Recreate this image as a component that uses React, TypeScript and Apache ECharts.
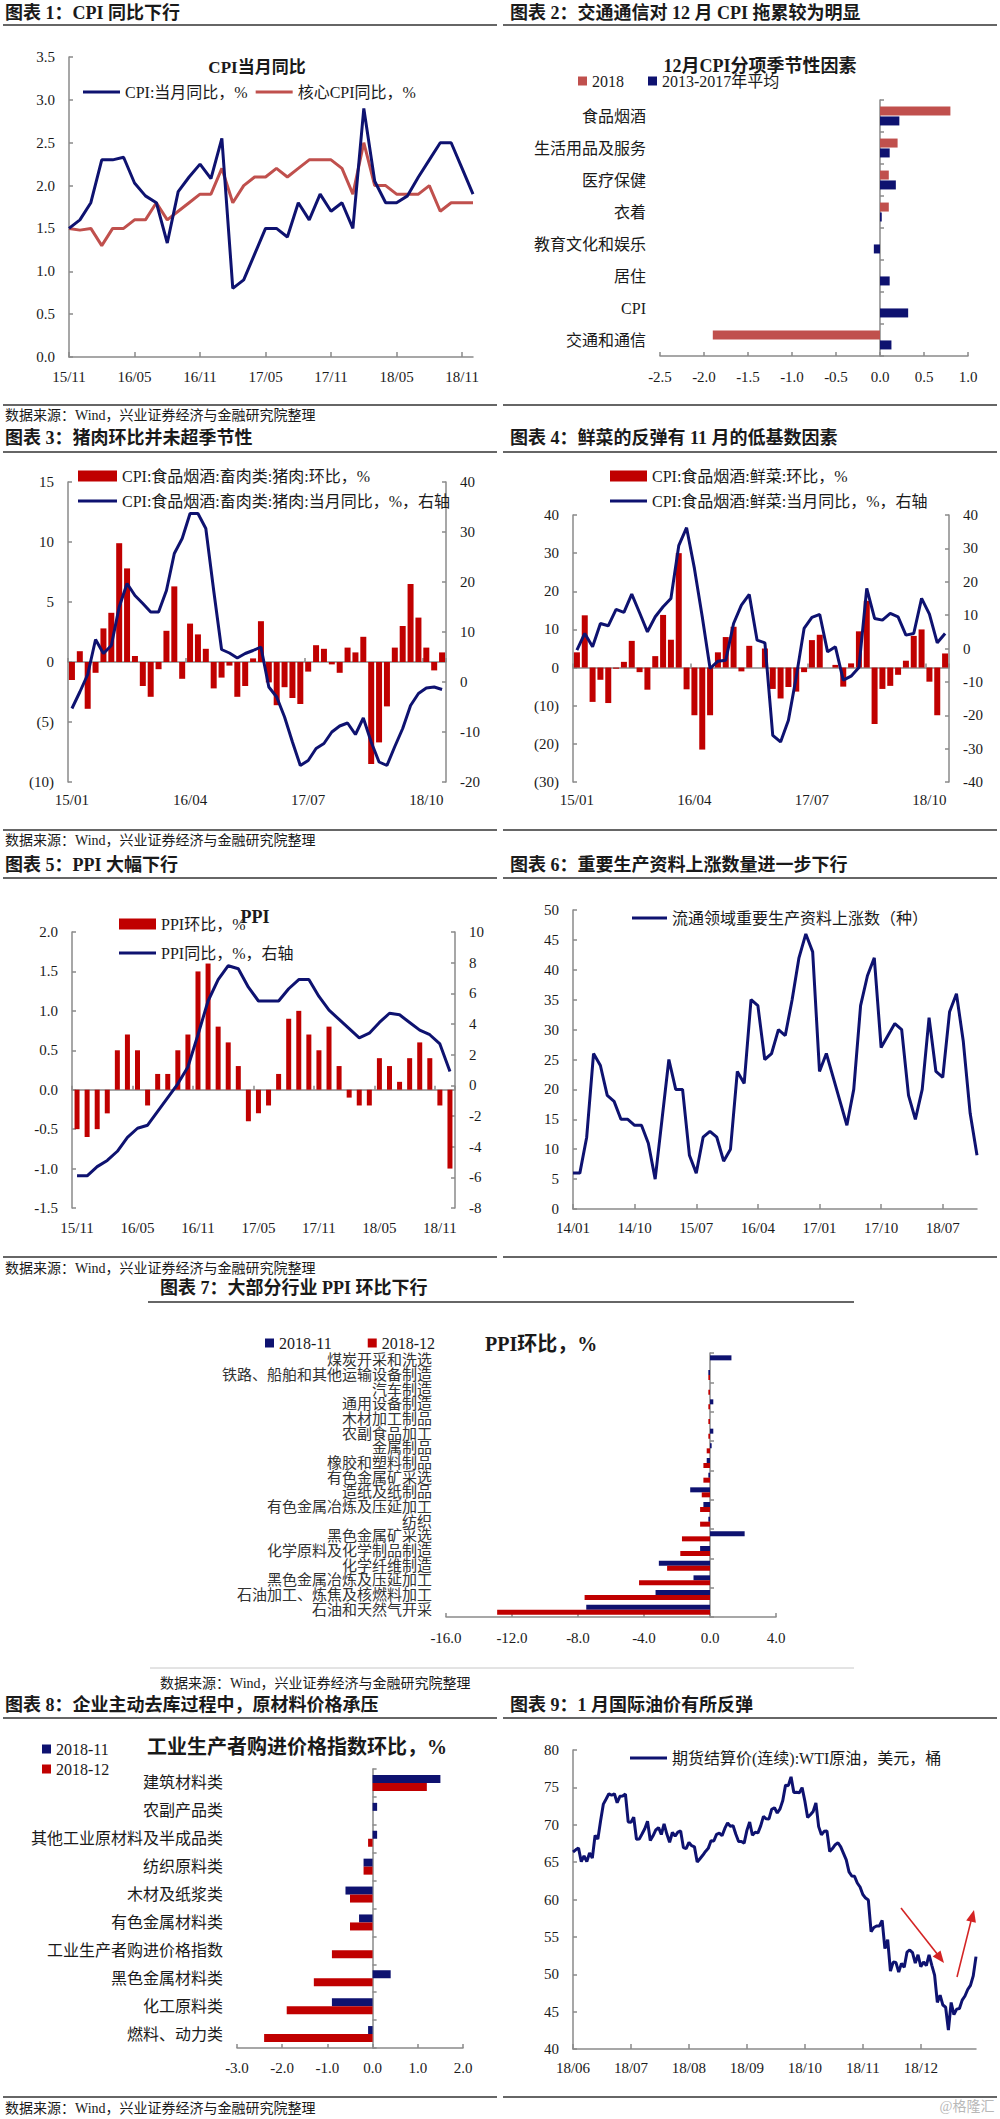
import React, { useEffect, useRef } from 'react';
import * as echarts from 'echarts';

const FONT = "'Liberation Serif', 'Noto Sans CJK SC', serif";
const NAVY = '#0e1270';
const RED = '#c00000';
const SOFT_RED = '#c0504d';
const AXIS = '#8a8a8a';
const TXT = '#1a1a1a';

function monthLabels(y: number, m: number, n: number): string[] {
  const out: string[] = [];
  for (let i = 0; i < n; i++) {
    const t = y * 12 + (m - 1) + i;
    const yy = Math.floor(t / 12) % 100;
    const mm = (t % 12) + 1;
    out.push(`${String(yy).padStart(2, '0')}/${String(mm).padStart(2, '0')}`);
  }
  return out;
}

// ---- Chart 1
const cpiMonths = monthLabels(2015, 11, 38);
const cpiYoY = [1.5, 1.6, 1.8, 2.3, 2.3, 2.33, 2.03, 1.88, 1.8, 1.33, 1.93, 2.1, 2.25, 2.08, 2.55, 0.8, 0.9, 1.2, 1.5, 1.5, 1.4, 1.8, 1.6, 1.9, 1.7, 1.8, 1.5, 2.9, 2.05, 1.8, 1.8, 1.88, 2.1, 2.3, 2.5, 2.5, 2.2, 1.9];
const coreCpi = [1.5, 1.48, 1.5, 1.3, 1.5, 1.5, 1.6, 1.6, 1.8, 1.6, 1.7, 1.8, 1.9, 1.9, 2.2, 1.8, 2.0, 2.1, 2.1, 2.2, 2.1, 2.2, 2.3, 2.3, 2.3, 2.2, 1.9, 2.5, 2.0, 2.0, 1.9, 1.9, 1.9, 2.0, 1.7, 1.8, 1.8, 1.8];

// ---- Chart 2
const cpiItems = ['食品烟酒', '生活用品及服务', '医疗保健', '衣着', '教育文化和娱乐', '居住', 'CPI', '交通和通信'];
const dec2018 = [0.8, 0.2, 0.1, 0.1, 0, 0, 0, -1.9];
const decAvg = [0.22, 0.11, 0.18, 0.02, -0.07, 0.11, 0.32, 0.13];

// ---- Chart 3 & 4
const foodMonths = monthLabels(2015, 1, 48);
const porkMoM = [-1.5, 0.9, -3.9, -0.9, 2.8, 4.1, 9.9, 7.8, 0.5, -2.0, -2.9, -0.6, 2.6, 6.3, -1.4, 3.2, 2.3, 1.1, -2.2, -1.3, -0.3, -2.9, -2.0, 0.3, 3.4, -1.7, -3.6, -2.1, -3.0, -3.5, -0.8, 1.4, 1.1, -0.2, -0.9, 1.2, 0.8, 2.1, -8.5, -6.7, -3.7, 1.2, 3.0, 6.5, 3.7, 1.2, -0.7, 0.8];
const porkYoY = [-5.3, -2, 1.5, 8.5, 5.7, 7.3, 15, 19.7, 17.3, 15.7, 14, 14, 18.3, 25.7, 28.7, 33.7, 33.7, 30.7, 18.3, 6.5, 5.8, 4.8, 5.7, 6.3, 7, -1, -3, -7, -12, -16.7, -15.7, -13.3, -12.3, -10, -8.8, -8.2, -10.5, -7.2, -12, -16, -16.7, -12.9, -9.3, -4.7, -2.3, -1.2, -1, -1.5];
const vegMoM = [4, 13.7, -9, -3.2, -9.3, -0.3, 1.5, 7, -1.2, -5.8, 3, 13.8, 7.3, 30, -5.7, -12.5, -21.5, -12.5, 4, 8, 10.7, -1, 5.7, 0, 5, -5.6, -8.1, -5.1, -6.3, -1.2, 7.2, 8.6, 0, 0.7, -5, 1.1, 9.5, 17.5, -14.8, -5.6, -4.8, -1.9, 1.8, 8.3, 10, -3.7, -12.5, 3.7];
const vegYoY = [-0.5, 4.5, 0.5, 7.5, 6.8, 11.7, 10.8, 16.3, 10.7, 5, 9.5, 12.5, 15, 30.8, 36.2, 24, 9.5, -6, -3.8, -3.5, 7.5, 13, 16.2, 2.5, 1.7, -26, -28, -21.5, -8.5, 6, 9.3, 10.2, -1, 0.5, -9.5, -8.3, -5.7, 18, 9, 8.5, 10.5, 9.5, 4, 4.5, 15, 10.3, 1.7, 4.5];

// ---- Chart 5
const ppiMonths = monthLabels(2015, 11, 38);
const ppiMoM = [-0.5, -0.6, -0.5, -0.3, 0.5, 0.7, 0.5, -0.2, 0.2, 0.2, 0.5, 0.7, 1.5, 1.6, 0.8, 0.6, 0.3, -0.4, -0.3, -0.2, 0.2, 0.9, 1.0, 0.7, 0.5, 0.8, 0.3, -0.1, -0.2, -0.2, 0.4, 0.3, 0.1, 0.4, 0.6, 0.4, -0.2, -1.0];
const ppiYoY = [-5.9, -5.9, -5.3, -4.9, -4.3, -3.4, -2.8, -2.6, -1.7, -0.8, 0.1, 1.2, 3.3, 5.5, 6.9, 7.8, 7.6, 6.4, 5.5, 5.5, 5.5, 6.3, 6.9, 6.9, 5.8, 4.9, 4.3, 3.7, 3.1, 3.4, 4.1, 4.7, 4.6, 4.1, 3.6, 3.3, 2.7, 0.9];

// ---- Chart 6
const countMonths = monthLabels(2014, 1, 60);
const risingCount = [6, 6, 12, 26, 24, 19, 18, 15, 15, 14, 14, 11, 5, 15, 25, 20, 20, 9, 6, 12, 13, 12, 8, 10, 23, 21, 35, 34, 25, 26, 30, 29, 35, 42, 46, 43, 23, 26, 22, 18, 14, 20, 34, 39, 42, 27, 29, 31, 30, 19, 15, 20, 32, 23, 22, 33, 36, 28, 16, 9];

// ---- Chart 7
const industries = ['煤炭开采和洗选', '铁路、船舶和其他运输设备制造', '汽车制造', '通用设备制造', '木材加工制品', '农副食品加工', '金属制品', '橡胶和塑料制品', '有色金属矿采选', '造纸及纸制品', '有色金属冶炼及压延加工', '纺织', '黑色金属矿采选', '化学原料及化学制品制造', '化学纤维制造', '黑色金属冶炼及压延加工', '石油加工、炼焦及核燃料加工', '石油和天然气开采'];
const indNov = [1.3, -0.1, 0, 0.2, 0, 0.2, 0.1, -0.2, -0.1, -1.2, -0.4, -0.1, 2.1, -0.6, -3.1, -1.0, -3.3, -7.5];
const indDec = [0, -0.1, -0.1, -0.1, -0.1, -0.1, -0.2, -0.4, -0.4, -0.5, -0.6, -0.6, -1.7, -1.8, -2.6, -4.3, -7.6, -12.9];

// ---- Chart 8
const purchaseItems = ['建筑材料类', '农副产品类', '其他工业原材料及半成品类', '纺织原料类', '木材及纸浆类', '有色金属材料类', '工业生产者购进价格指数', '黑色金属材料类', '化工原料类', '燃料、动力类'];
const purNov = [1.5, 0.1, 0.1, -0.2, -0.6, -0.3, 0, 0.4, -0.9, -0.1];
const purDec = [1.2, 0, -0.1, -0.2, -0.5, -0.5, -0.9, -1.3, -1.9, -2.4];

// ---- Chart 9
const wtiDates = [
  '18/06/12', '18/06/13', '18/06/14', '18/06/15', '18/06/18', '18/06/19', '18/06/20', '18/06/21', '18/06/22', '18/06/25', '18/06/26', '18/06/27', '18/06/28', '18/06/29',
  '18/07/02', '18/07/03', '18/07/05', '18/07/06', '18/07/09', '18/07/10', '18/07/11', '18/07/12', '18/07/13', '18/07/16', '18/07/17', '18/07/18', '18/07/19', '18/07/20', '18/07/23', '18/07/24', '18/07/25', '18/07/26', '18/07/27', '18/07/30', '18/07/31',
  '18/08/01', '18/08/02', '18/08/03', '18/08/06', '18/08/07', '18/08/08', '18/08/09', '18/08/10', '18/08/13', '18/08/14', '18/08/15', '18/08/16', '18/08/17', '18/08/20', '18/08/21', '18/08/22', '18/08/23', '18/08/24', '18/08/27', '18/08/28', '18/08/29', '18/08/30', '18/08/31',
  '18/09/04', '18/09/05', '18/09/06', '18/09/07', '18/09/10', '18/09/11', '18/09/12', '18/09/13', '18/09/14', '18/09/17', '18/09/18', '18/09/19', '18/09/20', '18/09/21', '18/09/24', '18/09/25', '18/09/26', '18/09/27', '18/09/28',
  '18/10/01', '18/10/02', '18/10/03', '18/10/04', '18/10/05', '18/10/08', '18/10/09', '18/10/10', '18/10/11', '18/10/12', '18/10/15', '18/10/16', '18/10/17', '18/10/18', '18/10/19', '18/10/22', '18/10/23', '18/10/24', '18/10/25', '18/10/26', '18/10/29', '18/10/30', '18/10/31',
  '18/11/01', '18/11/02', '18/11/05', '18/11/06', '18/11/07', '18/11/08', '18/11/09', '18/11/12', '18/11/13', '18/11/14', '18/11/15', '18/11/16', '18/11/19', '18/11/20', '18/11/21', '18/11/23', '18/11/26', '18/11/27', '18/11/28', '18/11/29', '18/11/30',
  '18/12/03', '18/12/04', '18/12/05', '18/12/06', '18/12/07', '18/12/10', '18/12/11', '18/12/12', '18/12/13', '18/12/14', '18/12/17', '18/12/18', '18/12/19', '18/12/20', '18/12/21', '18/12/24', '18/12/26', '18/12/27', '18/12/28', '18/12/31',
  '19/01/02', '19/01/03', '19/01/04', '19/01/07', '19/01/08', '19/01/09',
];
const wtiPrice = [
  66.36, 66.64, 66.89, 65.06, 65.85, 65.07, 66.22, 65.54, 68.58, 68.08, 70.53, 72.76, 73.45, 74.15,
  73.94, 74.14, 72.94, 73.80, 73.85, 74.11, 70.38, 70.33, 71.01, 68.06, 68.08, 68.76, 69.46, 70.46, 67.89, 68.52, 69.30, 69.61, 68.69, 70.13, 68.76,
  67.66, 68.96, 68.49, 69.01, 69.17, 66.94, 66.81, 67.63, 67.20, 67.04, 65.01, 65.46, 65.91, 66.43, 66.84, 67.86, 67.83, 68.72, 68.87, 68.53, 69.51, 70.25, 69.80,
  69.87, 68.72, 67.77, 67.75, 67.54, 69.25, 70.37, 68.59, 68.99, 68.91, 69.85, 71.12, 70.80, 70.78, 72.08, 72.28, 71.57, 72.12, 73.25,
  75.30, 75.23, 76.41, 74.33, 74.34, 74.29, 74.96, 73.17, 70.97, 71.34, 71.78, 72.92, 69.75, 68.65, 69.12, 69.17, 66.43, 66.82, 67.33, 67.59, 67.04, 66.18, 65.31,
  63.69, 63.14, 63.10, 62.21, 61.67, 60.67, 60.19, 59.93, 55.69, 56.25, 56.46, 56.46, 57.20, 53.43, 54.63, 50.42, 51.63, 51.56, 50.29, 51.45, 50.93,
  52.95, 53.25, 52.89, 51.49, 52.61, 51.00, 51.65, 51.15, 52.58, 51.20, 49.88, 46.24, 47.20, 45.88, 45.59, 42.53, 46.22, 44.61, 45.33, 45.41,
  46.54, 47.09, 47.96, 48.52, 49.78, 52.36,
];

// ---------- helpers
const lineStyleAxis = { color: AXIS, width: 1.5 };
const lbl = (extra: any = {}) => ({ color: TXT, fontFamily: FONT, fontSize: 15, ...extra });
const fix1 = (v: number) => v.toFixed(1);
const paren = (v: number) => (v < 0 ? `(${-v})` : `${v}`);

function valAxis(gridIndex: number, min: number, max: number, interval: number, extra: any = {}) {
  return {
    type: 'value', gridIndex, min, max, interval,
    axisLine: { show: true, onZero: false, lineStyle: lineStyleAxis },
    axisTick: { show: true, inside: true, length: 4, lineStyle: lineStyleAxis },
    splitLine: { show: false },
    ...extra,
    axisLabel: lbl({ margin: 14, ...(extra.axisLabel || {}) }),
  };
}
function catLabelAxis(gridIndex: number, data: string[], extra: any = {}) {
  return {
    type: 'category', gridIndex, data, position: 'bottom',
    axisLine: { show: false, onZero: false },
    axisTick: { show: false },
    splitLine: { show: false },
    ...extra,
    axisLabel: lbl({ ...(extra.axisLabel || {}) }),
  };
}
function catZeroAxis(gridIndex: number, data: string[], extra: any = {}) {
  return {
    type: 'category', gridIndex, data, position: 'bottom',
    axisLine: { show: true, onZero: true, lineStyle: lineStyleAxis },
    axisTick: { show: false },
    axisLabel: { show: false },
    splitLine: { show: false },
    ...extra,
  };
}
function yCatLabels(gridIndex: number, data: string[], fontSize: number, color = TXT) {
  return {
    type: 'category', gridIndex, data, inverse: true, position: 'left',
    axisLine: { show: false, onZero: false },
    axisTick: { show: false },
    splitLine: { show: false },
    axisLabel: lbl({ interval: 0, margin: 14, fontSize, color }),
  };
}
function yCatZero(gridIndex: number, data: string[]) {
  return {
    type: 'category', gridIndex, data, inverse: true, position: 'left',
    axisLine: { show: true, onZero: true, lineStyle: lineStyleAxis },
    axisTick: { show: true, inside: true, length: 4, lineStyle: lineStyleAxis },
    axisLabel: { show: false },
    splitLine: { show: false },
  };
}
const lineSeries = (name: string, data: number[], xi: number, yi: number, color: string, width = 3) => ({
  type: 'line', name, data, xAxisIndex: xi, yAxisIndex: yi, color,
  symbol: 'none', showSymbol: false, lineStyle: { width, color }, z: 3,
});
const barSeries = (name: string, data: number[], xi: number, yi: number, color: string, barWidth: number, barGap = '0%') => ({
  type: 'bar', name, data, xAxisIndex: xi, yAxisIndex: yi, color, barWidth, barGap,
  itemStyle: { color },
});
const legend = (left: number, top: number, data: string[], w: number, h: number, extra: any = {}) => ({
  left, top, data, icon: 'rect', itemWidth: w, itemHeight: h, padding: 0, itemGap: 8,
  textStyle: { fontFamily: FONT, fontSize: 16, color: TXT },
  selectedMode: false,
  ...extra,
});

// graphic helpers
const txt = (x: number, y: number, text: string, size: number, opts: any = {}) => ({
  type: 'text', x, y, silent: true,
  style: {
    text, fontSize: size, fontFamily: FONT, fontWeight: opts.bold ? 'bold' : 'normal',
    fill: opts.fill || TXT,
    align: opts.align || 'left', textAlign: opts.align || 'left',
    verticalAlign: 'middle', textVerticalAlign: 'middle',
  },
});
const hline = (x1: number, x2: number, y: number, color = '#666', w = 2) => ({
  type: 'line', silent: true, shape: { x1, y1: y, x2, y2: y }, style: { stroke: color, lineWidth: w },
});

const SRC = '数据来源：Wind，兴业证券经济与金融研究院整理';

export default function App() {
  const ref = useRef<HTMLDivElement>(null);
  useEffect(() => {
    if (!ref.current) return;
    const chart = echarts.init(ref.current, undefined, { renderer: 'svg' });

    const grids = [
      { left: 69, top: 57, width: 404, height: 300 },
      { left: 660, top: 100, width: 308, height: 256 },
      { left: 68, top: 482, width: 378, height: 300 },
      { left: 573, top: 515, width: 376, height: 267 },
      { left: 72, top: 932, width: 383, height: 276 },
      { left: 573, top: 910, width: 404, height: 299 },
      { left: 446, top: 1353, width: 330, height: 264 },
      { left: 237, top: 1769, width: 226, height: 279 },
      { left: 573, top: 1750, width: 403, height: 299 },
    ].map((g) => ({ ...g, containLabel: false, outerBoundsMode: 'none' }));

    const tickIn = (interval: number) => ({ show: true, inside: true, length: 5, interval, lineStyle: lineStyleAxis });

    const xAxis = [
      // 0 chart1
      { type: 'category', gridIndex: 0, data: cpiMonths, boundaryGap: false,
        axisLine: { show: true, lineStyle: lineStyleAxis }, axisTick: tickIn(5), splitLine: { show: false },
        axisLabel: lbl({ interval: 5, margin: 12 }) },
      // 1 chart2
      valAxis(1, -2.5, 1, 0.5, { axisLabel: { formatter: fix1, margin: 13 } }),
      // 2,3 chart3
      catLabelAxis(2, foodMonths, { axisLabel: { interval: 14, margin: 10 } }),
      catZeroAxis(2, foodMonths, { axisTick: { ...tickIn(14), length: 4 } }),
      // 4,5 chart4
      catLabelAxis(3, foodMonths, { axisLabel: { interval: 14, margin: 10 } }),
      catZeroAxis(3, foodMonths, { axisTick: { ...tickIn(14), length: 4 } }),
      // 6,7 chart5
      catLabelAxis(4, ppiMonths, { axisLabel: { interval: 5, margin: 12 } }),
      catZeroAxis(4, ppiMonths, { axisTick: { ...tickIn(5), length: 4 } }),
      // 8 chart6
      { type: 'category', gridIndex: 5, data: countMonths, boundaryGap: false,
        axisLine: { show: true, lineStyle: lineStyleAxis }, axisTick: tickIn(8), splitLine: { show: false },
        axisLabel: lbl({ interval: 8, margin: 11 }) },
      // 9 chart7
      valAxis(6, -16, 4, 4, { axisLabel: { formatter: fix1, margin: 13 } }),
      // 10 chart8
      valAxis(7, -3, 2, 1, { axisLabel: { formatter: fix1, margin: 12 } }),
      // 11 chart9
      { type: 'category', gridIndex: 8, data: wtiDates, boundaryGap: false,
        axisLine: { show: true, lineStyle: lineStyleAxis }, axisTick: tickIn(20), splitLine: { show: false },
        axisLabel: lbl({ interval: 20, margin: 11, formatter: (v: string) => v.slice(0, 5) }) },
    ];

    const yAxis = [
      valAxis(0, 0, 3.5, 0.5, { axisLabel: { formatter: fix1 } }), // 0
      yCatLabels(1, cpiItems, 16), // 1
      yCatZero(1, cpiItems), // 2
      valAxis(2, -10, 15, 5, { position: 'left', axisLabel: { formatter: paren } }), // 3
      valAxis(2, -20, 40, 10, { position: 'right' }), // 4
      valAxis(3, -30, 40, 10, { position: 'left', axisLabel: { formatter: paren } }), // 5
      valAxis(3, -40, 40, 10, { position: 'right' }), // 6
      valAxis(4, -1.5, 2, 0.5, { position: 'left', axisLabel: { formatter: fix1 } }), // 7
      valAxis(4, -8, 10, 2, { position: 'right' }), // 8
      valAxis(5, 0, 50, 5), // 9
      yCatLabels(6, industries, 15, '#333'), // 10
      yCatZero(6, industries), // 11
      yCatLabels(7, purchaseItems, 16), // 12
      yCatZero(7, purchaseItems), // 13
      valAxis(8, 40, 80, 5), // 14
    ];

    const n1 = 'CPI:当月同比，%';
    const n2 = '核心CPI同比，%';
    const n3a = 'CPI:食品烟酒:畜肉类:猪肉:环比，%';
    const n3b = 'CPI:食品烟酒:畜肉类:猪肉:当月同比，%，右轴';
    const n4a = 'CPI:食品烟酒:鲜菜:环比，%';
    const n4b = 'CPI:食品烟酒:鲜菜:当月同比，%，右轴';
    const n5a = 'PPI环比，%';
    const n5b = 'PPI同比，%，右轴';
    const n6 = '流通领域重要生产资料上涨数（种）';
    const n9 = '期货结算价(连续):WTI原油，美元，桶';

    const series = [
      lineSeries(n2, coreCpi, 0, 0, SOFT_RED),
      lineSeries(n1, cpiYoY, 0, 0, NAVY),
      barSeries('2018', dec2018, 1, 1, SOFT_RED, 9, '10%'),
      barSeries('2013-2017年平均', decAvg, 1, 1, NAVY, 9, '10%'),
      barSeries(n3a, porkMoM, 2, 3, RED, 6),
      lineSeries(n3b, porkYoY, 2, 4, NAVY),
      barSeries(n4a, vegMoM, 4, 5, RED, 6),
      lineSeries(n4b, vegYoY, 4, 6, NAVY),
      barSeries(n5a, ppiMoM, 6, 7, RED, 5),
      lineSeries(n5b, ppiYoY, 6, 8, NAVY),
      lineSeries(n6, risingCount, 8, 9, NAVY),
      barSeries('2018-11', indNov, 9, 10, NAVY, 5, '0%'),
      barSeries('2018-12', indDec, 9, 10, RED, 5, '0%'),
      barSeries('2018-11', purNov, 10, 12, NAVY, 8, '0%'),
      barSeries('2018-12', purDec, 10, 12, RED, 8, '0%'),
      lineSeries(n9, wtiPrice, 11, 14, NAVY),
    ];

    const legends = [
      legend(83, 84, [n1, n2], 37, 3, { itemGap: 8 }),
      legend(578, 73, ['2018', '2013-2017年平均'], 9, 9, { itemGap: 24 }),
      legend(78, 468, [n3a], 39, 11),
      legend(78, 493, [n3b], 39, 3),
      legend(610, 468, [n4a], 37, 11),
      legend(610, 493, [n4b], 37, 3),
      legend(119, 916, [n5a], 37, 11),
      legend(119, 945, [n5b], 37, 3),
      legend(632, 910, [n6], 35, 3),
      legend(265, 1335, ['2018-11', '2018-12'], 9, 9, { itemGap: 36 }),
      legend(42, 1741, ['2018-11', '2018-12'], 9, 9, { orient: 'vertical', itemGap: 4 }),
      legend(630, 1750, [n9], 37, 3),
    ];

    const elements: any[] = [
      // headers
      txt(5, 13, '图表 1：CPI 同比下行', 18, { bold: true }),
      txt(510, 13, '图表 2：交通通信对 12 月 CPI 拖累较为明显', 18, { bold: true }),
      hline(3, 497, 25), hline(503, 997, 25),
      txt(5, 438, '图表 3：猪肉环比并未超季节性', 18, { bold: true }),
      txt(510, 438, '图表 4：鲜菜的反弹有 11 月的低基数因素', 18, { bold: true }),
      hline(3, 497, 452), hline(503, 997, 452),
      txt(5, 865, '图表 5：PPI 大幅下行', 18, { bold: true }),
      txt(510, 865, '图表 6：重要生产资料上涨数量进一步下行', 18, { bold: true }),
      hline(3, 497, 878), hline(503, 997, 878),
      txt(160, 1288, '图表 7：大部分行业 PPI 环比下行', 18, { bold: true }),
      hline(148, 854, 1302),
      txt(5, 1705, '图表 8：企业主动去库过程中，原材料价格承压', 18, { bold: true }),
      txt(510, 1705, '图表 9：1 月国际油价有所反弹', 18, { bold: true }),
      hline(3, 497, 1718), hline(503, 997, 1718),
      // footers
      hline(3, 497, 405), hline(503, 997, 405),
      txt(5, 415, SRC, 14),
      hline(3, 497, 830), hline(503, 997, 830),
      txt(5, 840, SRC, 14),
      hline(3, 497, 1257), hline(503, 997, 1257),
      txt(5, 1268, SRC, 14),
      hline(150, 854, 1668, '#c8c8c8', 1),
      txt(160, 1683, SRC, 14),
      hline(3, 497, 2097), hline(503, 997, 2097),
      txt(5, 2108, SRC, 14),
      txt(967, 2106, '@格隆汇', 14, { align: 'center', fill: '#b8b8b8' }),
      // chart titles
      txt(257, 67, 'CPI当月同比', 17, { bold: true, align: 'center' }),
      txt(760, 66, '12月CPI分项季节性因素', 18, { bold: true, align: 'center' }),
      txt(255, 917, 'PPI', 18, { bold: true, align: 'center' }),
      txt(485, 1344, 'PPI环比，%', 20, { bold: true }),
      txt(297, 1747, '工业生产者购进价格指数环比，%', 20, { bold: true, align: 'center' }),
      // arrows on chart 9
      { type: 'line', silent: true, shape: { x1: 901, y1: 1908, x2: 938, y2: 1955 }, style: { stroke: '#d42424', lineWidth: 1.6 } },
      { type: 'polygon', silent: true, shape: { points: [[944, 1963], [932.7, 1956.6], [940.5, 1950.4]] }, style: { fill: '#d42424' } },
      { type: 'line', silent: true, shape: { x1: 957, y1: 1977, x2: 971, y2: 1921 }, style: { stroke: '#d42424', lineWidth: 1.6 } },
      { type: 'polygon', silent: true, shape: { points: [[974, 1910], [975.9, 1922.8], [966.2, 1920.4]] }, style: { fill: '#d42424' } },
    ];

    chart.setOption({
      animation: false,
      backgroundColor: '#ffffff',
      textStyle: { fontFamily: FONT },
      grid: grids,
      xAxis,
      yAxis,
      series,
      legend: legends,
      graphic: { elements },
    } as any);

    return () => chart.dispose();
  }, []);

  return (
    <div
      ref={ref}
      style={{ position: 'absolute', left: 0, top: 0, width: 1000, height: 2119, background: '#fff' }}
    />
  );
}
